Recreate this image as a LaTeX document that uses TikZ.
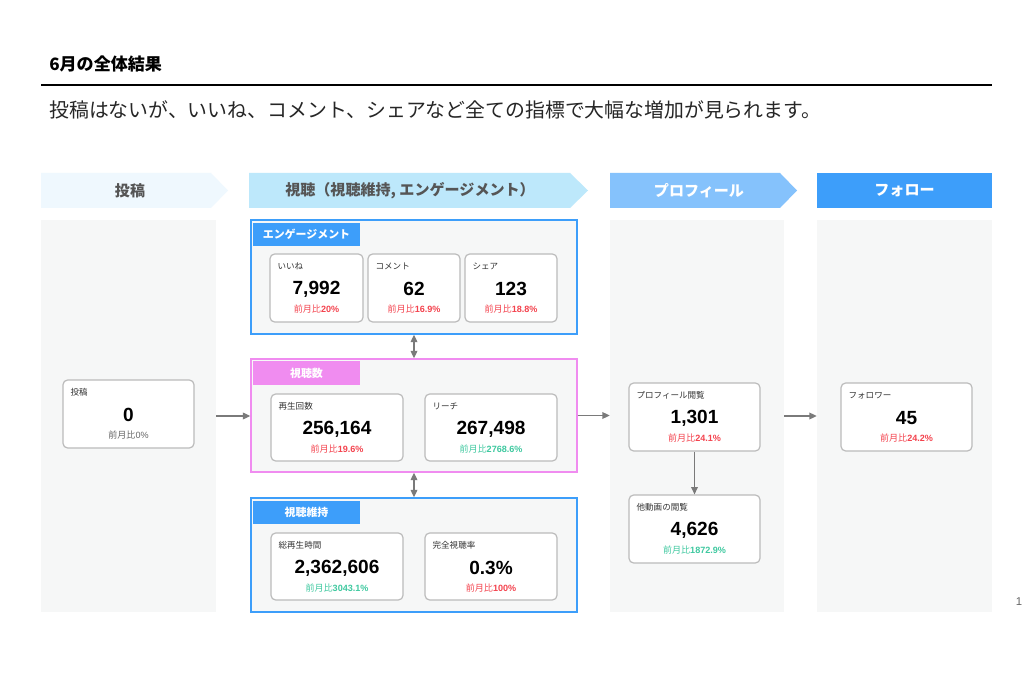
\documentclass[tikz,border=0pt]{standalone}
\usepackage{fontspec}
\setmainfont{Liberation Sans}
\newfontfamily\jp{Noto Sans CJK JP}
\usetikzlibrary{fit,calc,arrows.meta}
\definecolor{colbg}{HTML}{F6F7F7}
\definecolor{blueA}{HTML}{3D9EFA}
\definecolor{blueB}{HTML}{85C2FC}
\definecolor{cyanB}{HTML}{BDE8FB}
\definecolor{paleB}{HTML}{EFF8FE}
\definecolor{pinkA}{HTML}{F08CF0}
\definecolor{bantext}{HTML}{555555}
\definecolor{redT}{HTML}{F4434E}
\definecolor{greenT}{HTML}{3FC9A0}
\definecolor{grayT}{HTML}{666666}
\definecolor{cardline}{HTML}{BBBBBB}
\definecolor{arrgray}{HTML}{7A7A7A}
\tikzset{
  colbox/.style={fill=colbg, draw=none, inner sep=0pt},
  grpbox/.style={fill=colbg, draw=#1, line width=1.1pt, inner sep=0pt},
  tabbox/.style={fill=#1, draw=none, inner sep=0pt},
  tabtxt/.style={inner sep=0pt, text=white, font=\jp\bfseries\fontsize{8.2}{9}\selectfont},
  card/.style={fill=white, draw=cardline, line width=0.9pt, rounded corners=3.5pt, inner sep=0pt},
  clabel/.style={inner sep=0pt, text=black!80, font=\jp\fontsize{6.4}{7}\selectfont},
  cnum/.style={inner sep=0pt, font=\bfseries\fontsize{14.3}{16}\selectfont},
  cchg/.style={inner sep=0pt, font=\fontsize{6.8}{8}\selectfont},
  bantxt/.style={inner sep=0pt, font=\jp\bfseries\fontsize{11.3}{13}\selectfont},
  arr/.style={draw=arrgray, line width=0.9pt, -{Triangle[length=5.5pt,width=5pt]}},
  darr/.style={draw=arrgray, line width=0.9pt, {Triangle[length=5.5pt,width=5pt]}-{Triangle[length=5.5pt,width=5pt]}},
}
\newcommand\mkcard[9]{%
  \node[card, fit={(#2,#3)(#4,#5)}] (#1) {};
  \node[clabel, anchor=west] (#1-l) at ($(#1.north west)+(8,13)$) {#6};
  \node[cnum] (#1-n) at ($(#1.north)+(0,36)$) {#7};
  \node[cchg, text=#9] (#1-c) at ($(#1.north)+(0,55.5)$) {{\jp 前月比}#8};
}
\begin{document}
\begin{tikzpicture}[x=0.75pt,y=-0.75pt]
\path[use as bounding box, fill=white] (0,0) rectangle (1034,673);

% title
\node[anchor=west, inner sep=0pt, font=\jp\bfseries\fontsize{12.8}{14}\selectfont] (title) at (49,64) {6月の全体結果};
\coordinate (ruleL) at (41,85);
\coordinate (ruleR) at (992,85);
\draw[line width=1pt] (ruleL) -- (ruleR);
\node[anchor=west, inner sep=0pt, text=black!85, font=\jp\fontsize{14.9}{16}\selectfont] (subtitle) at (49,110) {投稿はないが、いいね、コメント、シェアなど全ての指標で大幅な増加が見られます。};

% banners
\fill[paleB] (41,173) -- (211,173) -- (228,190.5) -- (211,208) -- (41,208) -- cycle;
\node[bantxt, text=bantext] (banPost) at (130,190.5) {投稿};
\fill[cyanB] (249,173) -- (570,173) -- (588,190.5) -- (570,208) -- (249,208) -- cycle;
\node[bantxt, text=bantext] (banView) at (410,190.5) {視聴（視聴維持, エンゲージメント）};
\fill[blueB] (610,173) -- (780,173) -- (797,190.5) -- (780,208) -- (610,208) -- cycle;
\node[bantxt, text=white] (banProf) at (699,190.5) {プロフィール};
\fill[blueA] (817,173) rectangle (992,208);
\node[bantxt, text=white] (banFollow) at (904.5,190.5) {フォロー};

% columns
\node[colbox, fit={(41,220)(216,612)}] (postcol) {};
\node[colbox, fit={(610,220)(784,612)}] (profcol) {};
\node[colbox, fit={(817,220)(992,612)}] (follcol) {};

% group boxes
\node[grpbox=blueA, fit={(251,220)(577,334)}] (eng) {};
\node[tabbox=blueA, fit={(253,223)(360,246)}] (engtab) {};
\node[tabtxt] (engtab-t) at (engtab.center) {エンゲージメント};
\node[grpbox=pinkA, fit={(251,359)(577,472)}] (view) {};
\node[tabbox=pinkA, fit={(253,361)(360,385)}] (viewtab) {};
\node[tabtxt] (viewtab-t) at (viewtab.center) {視聴数};
\node[grpbox=blueA, fit={(251,498)(577,612)}] (ret) {};
\node[tabbox=blueA, fit={(253,501)(360,524)}] (rettab) {};
\node[tabtxt] (rettab-t) at (rettab.center) {視聴維持};

% cards
\mkcard{post}{63}{380}{194}{448}{投稿}{0}{0\%}{grayT}

\mkcard{like}{270}{254}{363}{322}{いいね}{7,992}{\textbf{20\%}}{redT}
\mkcard{comment}{368}{254}{460}{322}{コメント}{62}{\textbf{16.9\%}}{redT}
\mkcard{share}{465}{254}{557}{322}{シェア}{123}{\textbf{18.8\%}}{redT}

\mkcard{play}{271}{394}{403}{461}{再生回数}{256,164}{\textbf{19.6\%}}{redT}
\mkcard{reach}{425}{394}{557}{461}{リーチ}{267,498}{\textbf{2768.6\%}}{greenT}

\mkcard{total}{271}{533}{403}{600}{総再生時間}{2,362,606}{\textbf{3043.1\%}}{greenT}
\mkcard{complete}{425}{533}{557}{600}{完全視聴率}{0.3\%}{\textbf{100\%}}{redT}

\mkcard{prof}{629}{383}{760}{451}{プロフィール閲覧}{1,301}{\textbf{24.1\%}}{redT}
\mkcard{other}{629}{495}{760}{563}{他動画の閲覧}{4,626}{\textbf{1872.9\%}}{greenT}
\mkcard{foll}{841}{383}{972}{451}{フォロワー}{45}{\textbf{24.2\%}}{redT}

% connectors
\draw[arr] (postcol.east) -- (postcol.east -| view.west);
\draw[arr] (view.east) -- (view.east -| profcol.west);
\draw[arr] (profcol.east) -- (profcol.east -| follcol.west);
\draw[darr] (eng.south) -- (view.north);
\draw[darr] (view.south) -- (ret.north);
\draw[arr] (prof.south) -- (other.north);

% page number
\node[inner sep=0pt, text=grayT, font=\fontsize{8.5}{10}\selectfont] (pagenum) at (1019,602) {1};
\end{tikzpicture}
\end{document}
